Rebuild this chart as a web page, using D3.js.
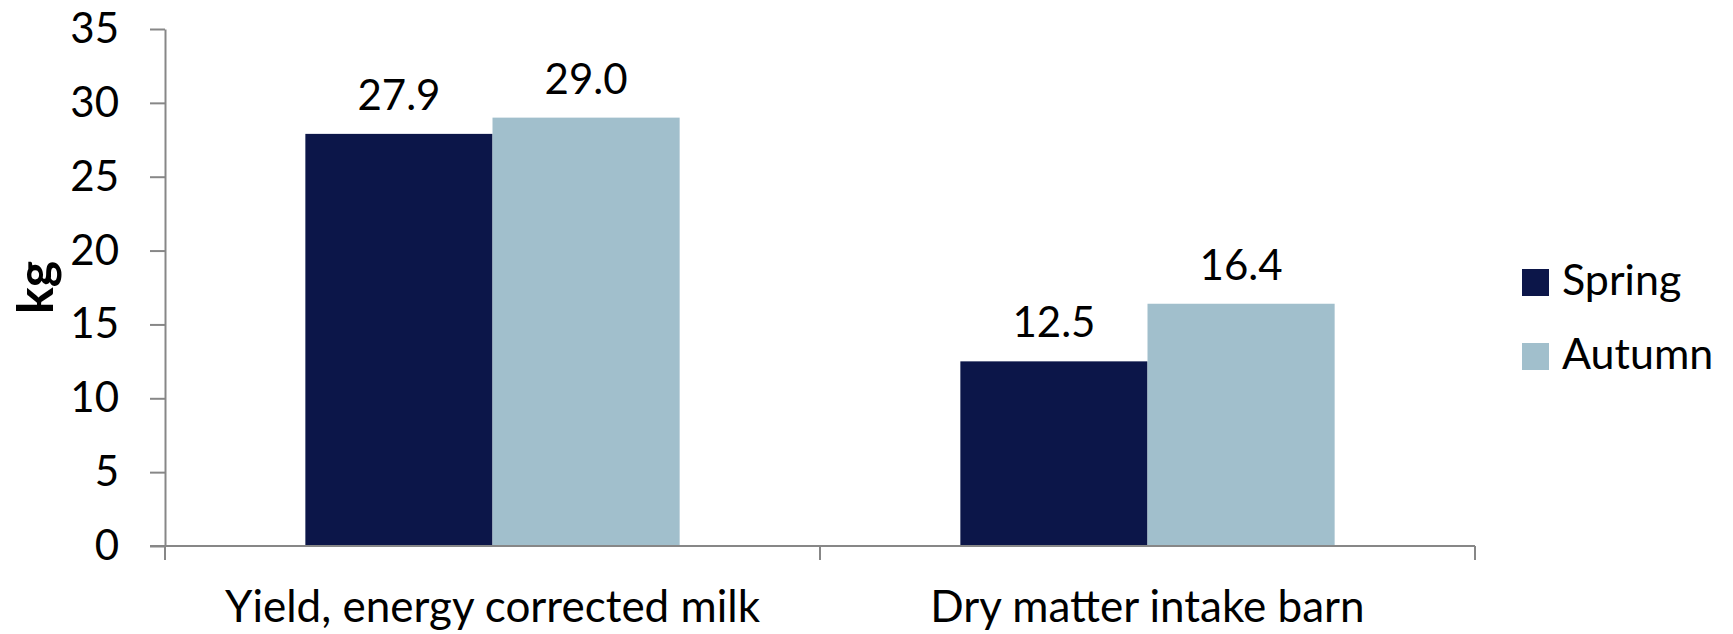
<!DOCTYPE html>
<html>
<head>
<meta charset="utf-8">
<script src="https://cdn.jsdelivr.net/npm/d3@7"></script>
<style>
  body { margin: 0; background: #fff; }
  text { font-family: Lato, "Open Sans", sans-serif; fill: #000; }
</style>
</head>
<body>
<script>
var categories = ["Yield, energy corrected milk", "Dry matter intake barn"]
var seriesNames = ["Spring", "Autumn"]
var springValues = [27.9, 12.5]
var autumnValues = [29.0, 16.4]
var yTicks = [0, 5, 10, 15, 20, 25, 30, 35]
var colors = ["#0c1649", "#a1bfcc"]

var width = 1733, height = 634
var margin = {l: 165, t: 29, r: 258, b: 88}
var axisColor = "#878787"
var fontSize = 42

var svg = d3.select("body").append("svg")
    .attr("width", width)
    .attr("height", height)

var x = d3.scaleBand()
    .domain(categories)
    .range([margin.l, width - margin.r])
    .paddingInner(0).paddingOuter(0)

var y = d3.scaleLinear()
    .domain([0, 35])
    .range([height - margin.b, margin.t])

// gap width 150% like the original
var barW = x.bandwidth() / 3.5
var inner = d3.scaleBand()
    .domain(seriesNames)
    .range([0, barW * 2])

var rows = categories.map(function (c, i) {
    return {cat: c, vals: [springValues[i], autumnValues[i]]}
})

// bars
var g = svg.append("g")
rows.forEach(function (row) {
    var x0 = x(row.cat) + x.bandwidth() / 2 - barW
    g.selectAll(null)
        .data(row.vals)
        .enter()
        .append("rect")
        .attr("x", function (d, i) { return x0 + inner(seriesNames[i]) })
        .attr("y", function (d) { return y(d) })
        .attr("width", inner.bandwidth())
        .attr("height", function (d) { return y(0) - y(d) })
        .attr("fill", function (d, i) { return colors[i] })
    g.selectAll(null)
        .data(row.vals)
        .enter()
        .append("text")
        .attr("x", function (d, i) { return x0 + inner(seriesNames[i]) + inner.bandwidth() / 2 })
        .attr("y", function (d) { return y(d) - 24 })
        .attr("text-anchor", "middle")
        .style("font-size", fontSize + "px")
        .text(function (d) { return d.toFixed(1) })
})

// y axis
var yAxis = svg.append("g")
    .attr("transform", "translate(" + margin.l + ",0)")
    .call(d3.axisLeft(y).tickValues(yTicks).tickSize(15).tickPadding(31).tickSizeOuter(0))
yAxis.select(".domain").attr("stroke", axisColor).attr("stroke-width", 2)
yAxis.selectAll(".tick line").attr("stroke", axisColor).attr("stroke-width", 2)
yAxis.selectAll(".tick text")
    .style("font-family", "Lato, sans-serif")
    .style("font-size", fontSize + "px")
    .attr("fill", "#000")

// x axis
var edges = categories.map(function (c) { return x(c) }).concat([x.range()[1]])
svg.append("line")
    .attr("x1", x.range()[0] - 15)
    .attr("x2", x.range()[1])
    .attr("y1", y(0))
    .attr("y2", y(0))
    .style("stroke", axisColor)
    .style("stroke-width", 2)
svg.selectAll(".xtick")
    .data(edges)
    .enter()
    .append("line")
    .attr("class", "xtick")
    .attr("x1", function (d) { return d })
    .attr("x2", function (d) { return d })
    .attr("y1", y(0))
    .attr("y2", y(0) + 14)
    .style("stroke", axisColor)
    .style("stroke-width", 2)
svg.selectAll(".xlabel")
    .data(categories)
    .enter()
    .append("text")
    .attr("class", "xlabel")
    .attr("x", function (d) { return x(d) + x.bandwidth() / 2 })
    .attr("y", 622)
    .attr("text-anchor", "middle")
    .style("font-size", "44px")
    .text(function (d) { return d })

// y title
svg.append("text")
    .attr("transform", "translate(53," + ((y(0) + y(35)) / 2) + ") rotate(-90)")
    .attr("text-anchor", "middle")
    .style("font-size", "50px")
    .style("font-weight", "bold")
    .text("kg")

// legend
var legend = svg.append("g").attr("transform", "translate(1522,269)")
var item = legend.selectAll("g")
    .data(seriesNames)
    .enter()
    .append("g")
    .attr("transform", function (d, i) { return "translate(0," + (i * 74) + ")" })
item.append("rect")
    .attr("width", 27)
    .attr("height", 27)
    .attr("fill", function (d, i) { return colors[i] })
item.append("text")
    .attr("x", 40)
    .attr("y", 26)
    .style("font-size", "43px")
    .text(function (d) { return d })
</script>
</body>
</html>
